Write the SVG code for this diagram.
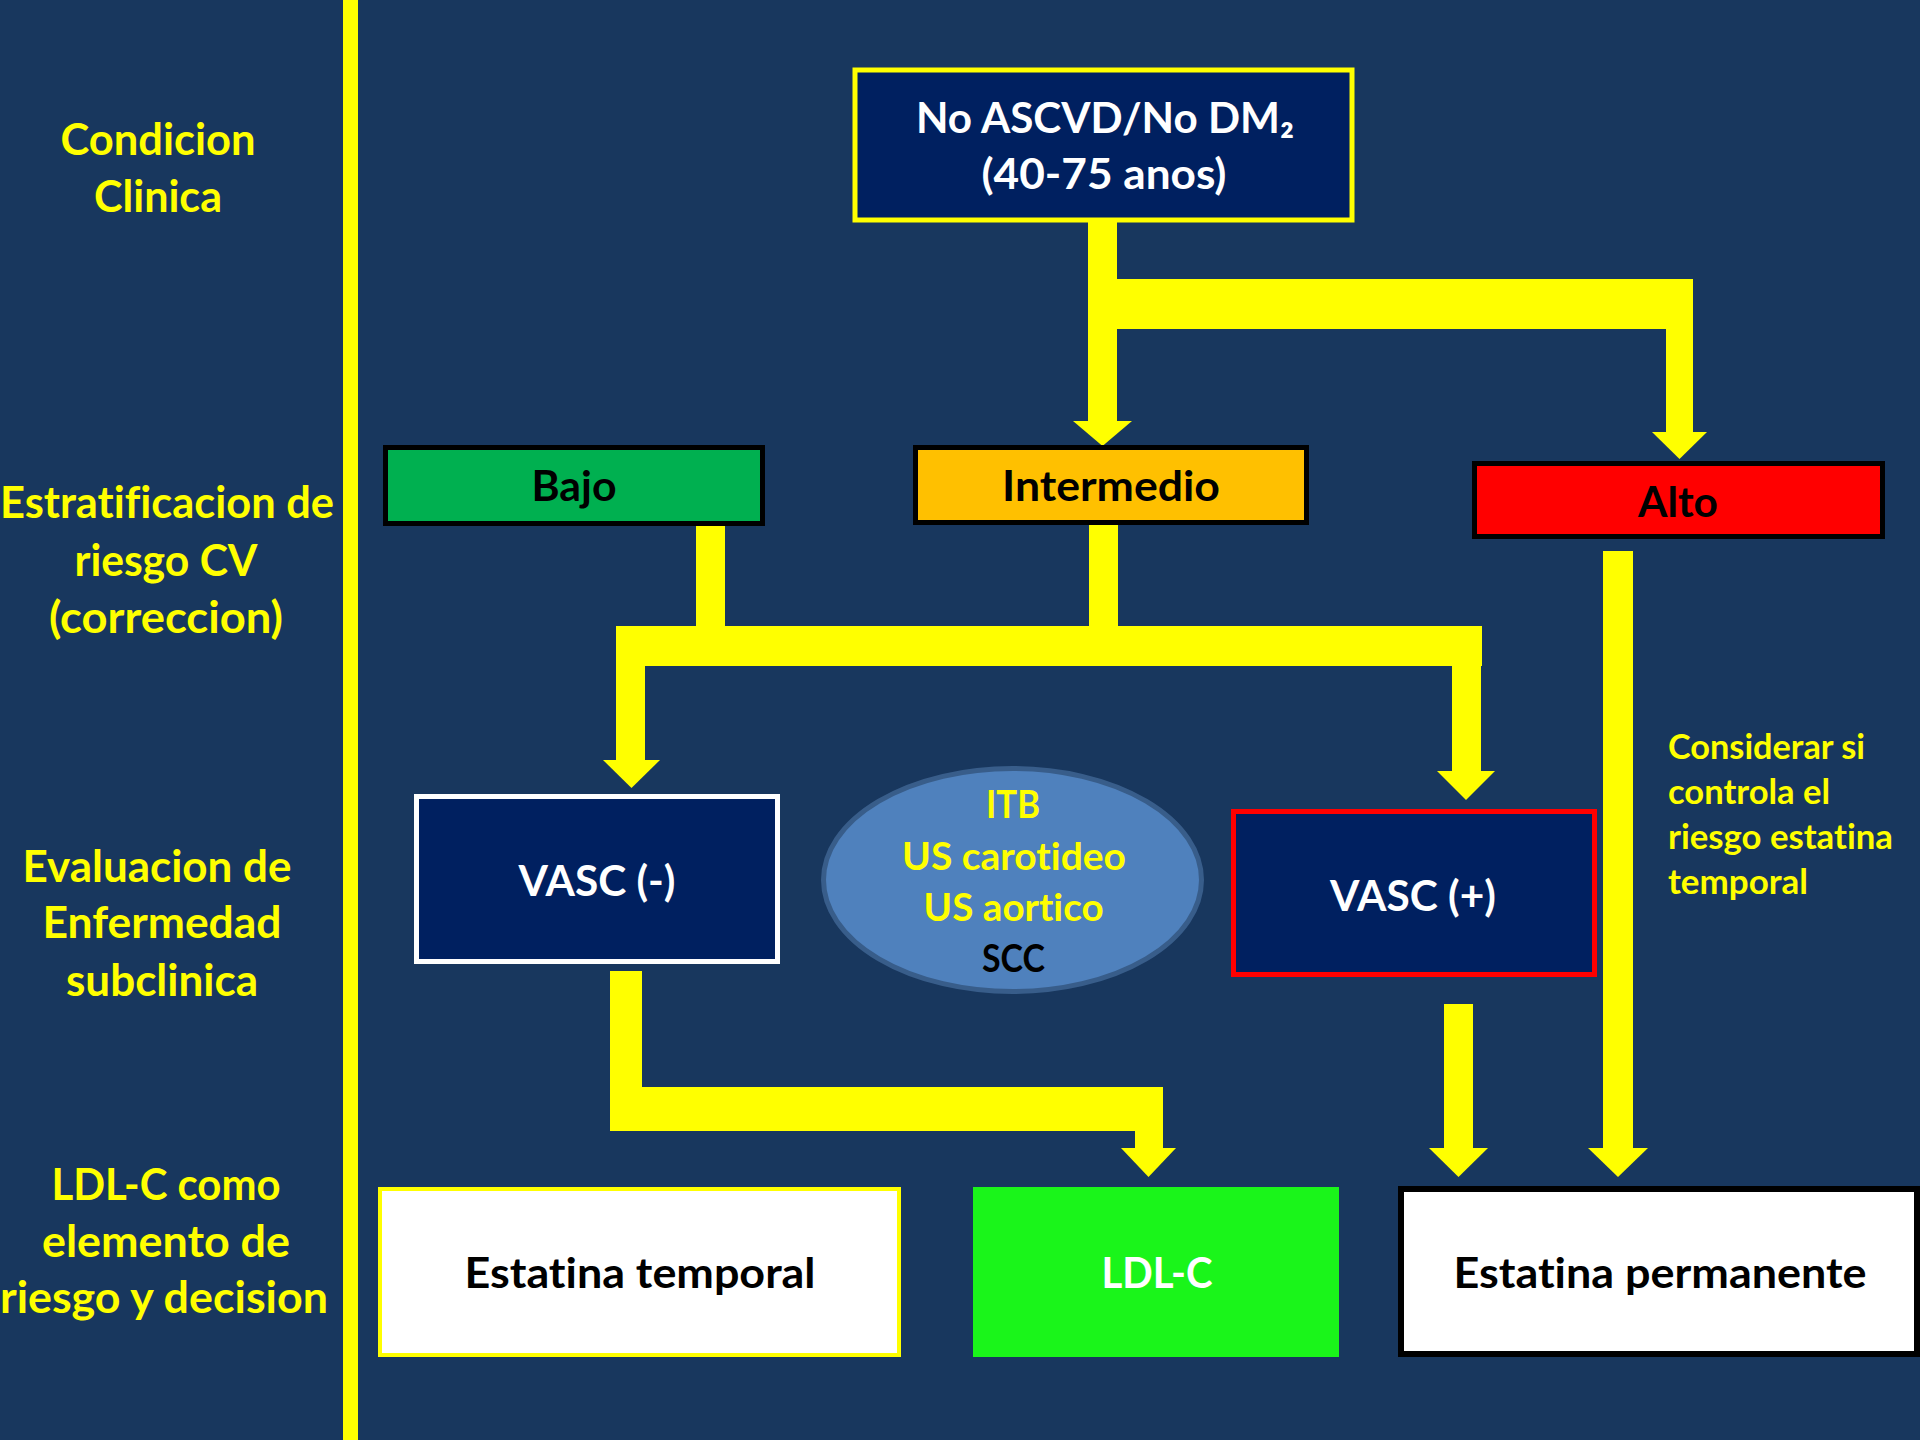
<svg xmlns="http://www.w3.org/2000/svg" width="1920" height="1440" viewBox="0 0 1920 1440">
<style>
.t{font-family:Lato,"Open Sans","Liberation Sans",sans-serif;font-weight:700;text-anchor:middle;font-variant-ligatures:none}
.lab{fill:#FFFF00;font-size:44px}
.bx{font-size:42px}
.el{font-size:38px}
.note{fill:#FFFF00;font-size:35px;font-family:Lato,"Open Sans","Liberation Sans",sans-serif;font-weight:700;font-variant-ligatures:none}
.conn{fill:#FFFF00}
</style>
<rect x="0" y="0" width="1920" height="1440" fill="#18375E"/>
<rect x="343" y="0" width="15" height="1440" fill="#FFFF00"/>

<g id="row-labels">
<text class="t lab" x="158" y="154.6" textLength="195" lengthAdjust="spacingAndGlyphs">Condicion</text>
<text class="t lab" x="158" y="212" textLength="128" lengthAdjust="spacingAndGlyphs">Clinica</text>
<text class="t lab" x="167" y="518" textLength="334" lengthAdjust="spacingAndGlyphs">Estratificacion de</text>
<text class="t lab" x="166" y="575.6" textLength="183" lengthAdjust="spacingAndGlyphs">riesgo CV</text>
<text class="t lab" x="166" y="633" textLength="234" lengthAdjust="spacingAndGlyphs">(correccion)</text>
<text class="t lab" x="157" y="881.7" textLength="269" lengthAdjust="spacingAndGlyphs">Evaluacion de</text>
<text class="t lab" x="162" y="938" textLength="239" lengthAdjust="spacingAndGlyphs">Enfermedad</text>
<text class="t lab" x="162" y="996" textLength="192" lengthAdjust="spacingAndGlyphs">subclinica</text>
<text class="t lab" x="166" y="1200" textLength="229" lengthAdjust="spacingAndGlyphs">LDL-C como</text>
<text class="t lab" x="166" y="1256.7" textLength="248" lengthAdjust="spacingAndGlyphs">elemento de</text>
<text class="t lab" x="164" y="1313" textLength="328" lengthAdjust="spacingAndGlyphs">riesgo y decision</text>
</g>

<g id="connectors" class="conn">
<rect x="1088" y="220" width="29" height="201"/>
<polygon points="1073,421 1132,421 1102.5,446"/>
<rect x="1088" y="279" width="605" height="50"/>
<rect x="1666" y="279" width="27" height="153"/>
<polygon points="1652,432 1707,432 1679.5,459"/>

<rect x="696" y="524" width="29" height="122"/>
<rect x="1089" y="522" width="29" height="124"/>
<rect x="616" y="626" width="866" height="40"/>
<rect x="616" y="626" width="29" height="134"/>
<polygon points="603,760 660,760 631.5,788"/>
<rect x="1452" y="626" width="29" height="145"/>
<polygon points="1437,771 1495,771 1466,800"/>

<rect x="610" y="971" width="32" height="160"/>
<rect x="610" y="1087" width="553" height="44"/>
<rect x="1135" y="1087" width="28" height="61"/>
<polygon points="1121,1148 1176,1148 1148.5,1177"/>

<rect x="1444" y="1004" width="29" height="144"/>
<polygon points="1429,1148 1488,1148 1458.5,1177"/>

<rect x="1603" y="551" width="30" height="597"/>
<polygon points="1588,1148 1648,1148 1618,1177"/>
</g>

<g id="node-top">
<rect x="855" y="70" width="497" height="150" fill="#002060" stroke="#FFFF00" stroke-width="5"/>
<text class="t bx" x="1105" y="133" fill="#FFFFFF" font-size="44" textLength="378" lengthAdjust="spacingAndGlyphs">No ASCVD/No DM₂</text>
<text class="t bx" x="1104" y="189" fill="#FFFFFF" font-size="44" textLength="245" lengthAdjust="spacingAndGlyphs">(40-75 anos)</text>
</g>

<g id="node-bajo">
<rect x="385.5" y="447.5" width="377" height="76" fill="#00B050" stroke="#000000" stroke-width="5"/>
<text class="t bx" x="574" y="500.7" fill="#000000" textLength="85" lengthAdjust="spacingAndGlyphs">Bajo</text>
</g>

<g id="node-intermedio">
<rect x="915.5" y="447.5" width="391" height="75" fill="#FFC000" stroke="#000000" stroke-width="5"/>
<text class="t bx" x="1111" y="500.7" fill="#000000" textLength="218" lengthAdjust="spacingAndGlyphs">Intermedio</text>
</g>

<g id="node-alto">
<rect x="1474.5" y="463.5" width="408" height="73" fill="#FF0000" stroke="#000000" stroke-width="5"/>
<text class="t bx" x="1678" y="517" fill="#000000" textLength="80" lengthAdjust="spacingAndGlyphs">Alto</text>
</g>

<g id="node-vasc-neg">
<rect x="416.5" y="796.5" width="361" height="165" fill="#002060" stroke="#FFFFFF" stroke-width="5"/>
<text class="t bx" x="597" y="896" fill="#FFFFFF" textLength="157" lengthAdjust="spacingAndGlyphs">VASC (-)</text>
</g>

<g id="node-tests">
<ellipse cx="1012.5" cy="880" rx="189" ry="111.5" fill="#4F81BD" stroke="#385D8A" stroke-width="5"/>
<text class="t el" x="1013" y="818" fill="#FFFF00" textLength="54" lengthAdjust="spacingAndGlyphs">ITB</text>
<text class="t el" x="1014" y="869.6" fill="#FFFF00" textLength="224" lengthAdjust="spacingAndGlyphs">US carotideo</text>
<text class="t el" x="1013.6" y="921" fill="#FFFF00" textLength="180" lengthAdjust="spacingAndGlyphs">US aortico</text>
<text class="t el" x="1013.5" y="972" fill="#000000" textLength="63" lengthAdjust="spacingAndGlyphs">SCC</text>
</g>

<g id="node-vasc-pos">
<rect x="1233.5" y="811.5" width="361" height="163" fill="#002060" stroke="#FF0000" stroke-width="5"/>
<text class="t bx" x="1413" y="910.5" fill="#FFFFFF" textLength="166" lengthAdjust="spacingAndGlyphs">VASC (+)</text>
</g>

<g id="note-considerar">
<text class="note" x="1668" y="759" textLength="197" lengthAdjust="spacingAndGlyphs">Considerar si</text>
<text class="note" x="1668" y="804" textLength="162" lengthAdjust="spacingAndGlyphs">controla el</text>
<text class="note" x="1668" y="848.7" textLength="225" lengthAdjust="spacingAndGlyphs">riesgo estatina</text>
<text class="note" x="1668" y="893.7" textLength="140" lengthAdjust="spacingAndGlyphs">temporal</text>
</g>

<g id="node-estatina-temporal">
<rect x="380" y="1189" width="519" height="166" fill="#FFFFFF" stroke="#FFFF00" stroke-width="4"/>
<text class="t bx" x="640" y="1288" fill="#000000" font-size="44" textLength="351" lengthAdjust="spacingAndGlyphs">Estatina temporal</text>
</g>

<g id="node-ldlc">
<rect x="973" y="1187" width="366" height="170" fill="#1AF51A"/>
<text class="t bx" x="1157" y="1288" fill="#FFFFFF" font-size="44" textLength="111" lengthAdjust="spacingAndGlyphs">LDL-C</text>
</g>

<g id="node-estatina-permanente">
<rect x="1401" y="1189" width="516" height="165" fill="#FFFFFF" stroke="#000000" stroke-width="6"/>
<text class="t bx" x="1660" y="1288" fill="#000000" font-size="44" textLength="413" lengthAdjust="spacingAndGlyphs">Estatina permanente</text>
</g>
</svg>
